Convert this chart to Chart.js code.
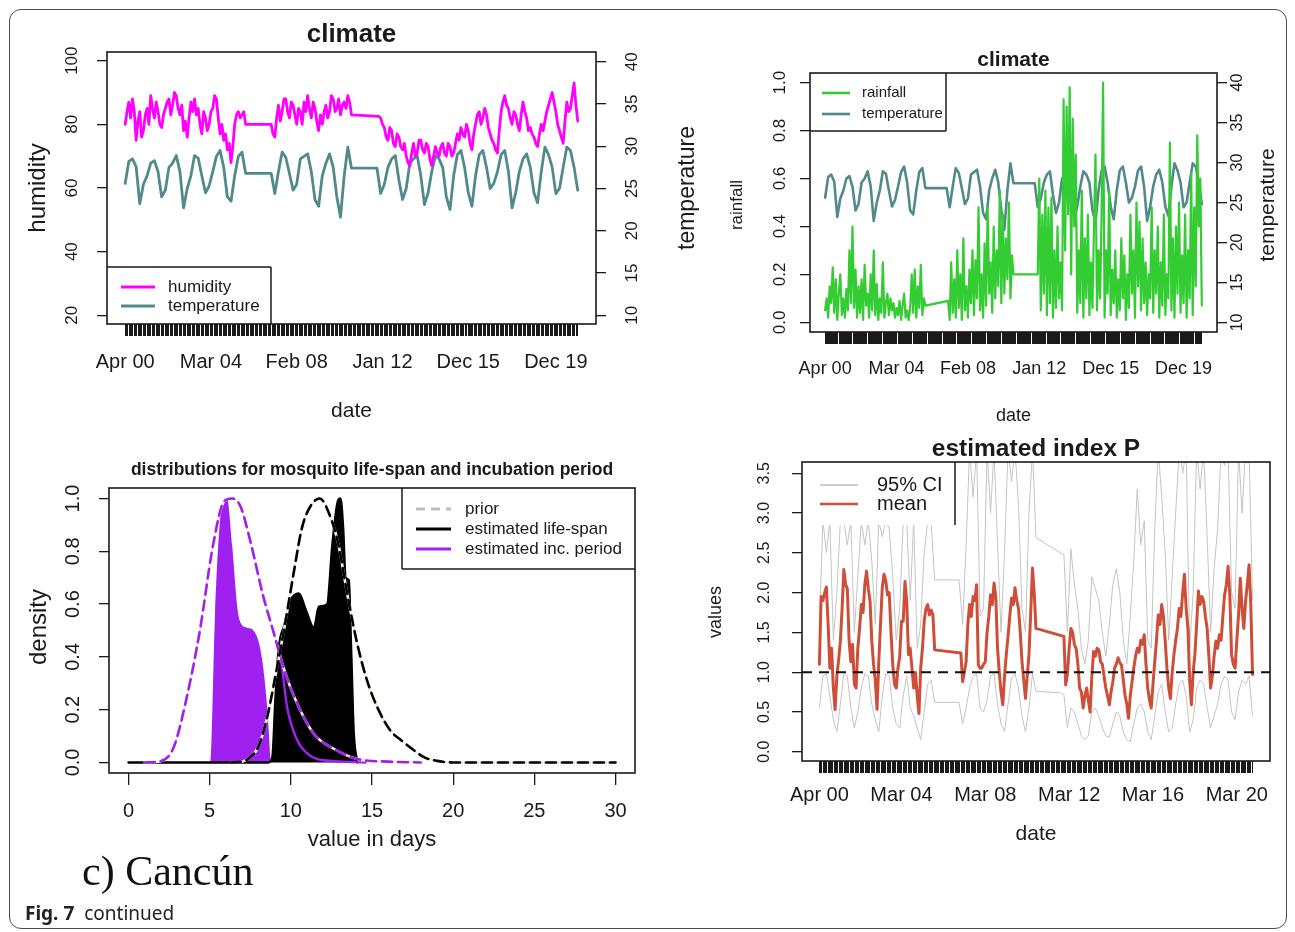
<!DOCTYPE html>
<html>
<head>
<meta charset="utf-8">
<title>Fig. 7 continued – c) Cancún</title>
<script src="https://cdn.jsdelivr.net/npm/chart.js@4.4.1/dist/chart.umd.min.js"></script>
<style>
  html, body { margin:0; padding:0; background:#fff; }
  #page { position:relative; width:1295px; height:932px; overflow:hidden; background:#fff; }
  #page canvas { position:absolute; left:0; top:0; }
  #frame { position:absolute; left:9px; top:9px; width:1278px; height:920px; box-sizing:border-box;
           border:1.5px solid #4d4d4d; border-radius:12px; }
  #city { position:absolute; left:82px; top:850px; font-family:"Liberation Serif","Times New Roman",serif;
          font-size:42px; line-height:42px; color:#111; white-space:nowrap; }
  #caption { position:absolute; left:25px; top:902px; font-family:"Noto Sans","Open Sans",sans-serif;
             font-size:19px; line-height:22px; color:#222; white-space:nowrap; }
  #caption b { font-weight:700; }
</style>
</head>
<body>
<div id="page">
  <div id="frame"></div>
  <canvas id="cHum" width="1295" height="932"></canvas>
  <canvas id="cRain" width="1295" height="932"></canvas>
  <canvas id="cDens" width="1295" height="932"></canvas>
  <canvas id="cIdx" width="1295" height="932"></canvas>
  <div id="city">c) Cancún</div>
  <div id="caption"><b>Fig. 7</b>&nbsp; continued</div>
</div>
<script>
// ================= DATA =================
const firstObs = 2000.25;          // April 2000 (first observation)
const lastObs  = 2020.92;          // December 2020 (last observation)

// monthly humidity (%), Apr 2000 .. Dec 2020; null = missing (line spans the gap)
const humidity = [
  80, 84, 87, 82, 88, 84, 75, 81, 84, 76, 78, 83,
  85, 80, 89, 85, 82, 87, 84, 80, 79, 83, 85, 87,
  88, 83, 86, 90, 89, 85, 83, 86, 78, 81, 76, 82,
  87, 84, 88, 83, 85, 80, 77, 84, 82, 78, 80, 84,
  85, 89, 88, 82, 77, 80, 75, 77, 72, 74, 68, 73,
  80, 83, 84, 82, 83, 84, 80,
  null, null, null, null, null, null, null, null, null, null, null, null, null,
  80, 77, 76, 82, 86, 81, 84, 88, 88, 84, 82, 87,
  86, 83, 80, 85, 84, 80, 87, 84, 89, 85, 82, 87,
  85, 81, 78, 83, 80, 84, 86, 82, 84, 89, 88, 84,
  85, 88, 83, 86, 87, 85, 89, 87, 83,
  null, null, null, null, null, null, null, null, null, null, null, null, null, null,
  82.5, 82,
  80, 79, 76, 75, 79, 78, 74, 73, 77, 76, 73,
  72, 74, 70, 68, 67, 71, 74, 70, 71, 75, 75, 72,
  71, 74, 73, 69, 67, 70, 73, 71, 70, 73, 74, 71,
  70, 74, 73, 70, 71, 74, 77, 75, 79, 77, 76, 80,
  78, 74, 72, 77, 80, 83, 84, 80, 82, 85, 83, 79,
  77, 75, 74, 72, 71, 78, 84, 87, 89, 86, 85, 82,
  80, 84, 83, 80, 78, 83, 87, 84, 82, 78, 79, 77,
  76, 74, 73, 77, 80, 78, 81, 84, 86, 88, 90, 87,
  84, 80, 78, 76, 74, 81, 87, 84, 85, 89, 93, 86, 81
];
// bi-monthly temperature (°C)
const temperature = [
  25.6, 28.2, 28.5, 27.6, 23.2, 25.5,   26.5, 28.0, 28.3, 27.0, 24.0, 24.8,
  27.5, 28.0, 28.9, 27.0, 22.7, 25.0,   26.5, 28.9, 28.6, 26.5, 24.5, 25.3,
  27.0, 28.8, 29.5, 27.5, 24.0, 23.5,   26.5, 28.8, 29.3, 26.8,
  null, null, null, null, null, null,
  26.8, 24.4, 27.0, 29.3, 28.7, 26.8,   24.8, 25.5, 28.5, 28.8, 29.1, 27.0,
  23.7, 22.9, 26.5, 28.0, 29.1, 27.5,   24.0, 21.6, 26.5, 29.9, 27.4,
  null, null, null, null, null, null,
  27.4, 24.4,
  25.5, 27.5, 28.5, 28.9, 26.0, 23.7,   25.0, 28.0, 28.5, 28.9, 26.5, 23.1,
  24.5, 27.0, 28.9, 28.5, 27.5, 24.0,   22.5, 26.5, 29.0, 29.5, 27.5, 24.5,
  22.9, 26.5, 29.0, 29.5, 27.5, 25.0,   25.6, 27.0, 29.0, 29.5, 27.0, 22.7,
  24.5, 27.0, 28.5, 29.1, 27.5, 24.5,   23.3, 27.0, 29.9, 29.0, 27.5, 24.4,
  25.0, 27.5, 29.9, 29.5, 27.5, 24.8
];
// monthly normalised rainfall
const rainfall = [
  0.05, 0.10, 0.02, 0.15, 0.08, 0.23, 0.04, 0.18, 0.01, 0.12, 0.20, 0.03,
  0.10, 0.02, 0.14, 0.05, 0.30, 0.08, 0.40, 0.06, 0.22, 0.02, 0.15, 0.04,
  0.18, 0.01, 0.24, 0.07, 0.12, 0.02, 0.20, 0.05, 0.30, 0.03, 0.16, 0.01,
  0.10, 0.04, 0.25, 0.02, 0.08, 0.12, 0.03, 0.10, 0.05, 0.08, 0.02, 0.06,
  0.03, 0.09, 0.01, 0.07, 0.12, 0.02, 0.05, 0.01, 0.06, 0.20, 0.04, 0.22,
  0.02, 0.15, 0.06, 0.24, 0.03, 0.10, 0.07,
  null, null, null, null, null, null, null, null, null, null, null, null, null, null,
  0.09, 0.01, 0.25, 0.04, 0.18, 0.02, 0.30, 0.06, 0.20, 0.01, 0.35, 0.05,
  0.15, 0.02, 0.22, 0.08, 0.30, 0.03, 0.26, 0.10, 0.48, 0.05, 0.20, 0.02,
  0.33, 0.07, 0.48, 0.12, 0.25, 0.04, 0.40, 0.10, 0.30, 0.15, 0.55, 0.08,
  0.45, 0.12, 0.35, 0.18, 0.50, 0.10, 0.28, 0.20,
  null, null, null, null, null, null, null, null, null, null, null, null, null, null, null,
  0.20, 0.60, 0.05, 0.45, 0.12, 0.55, 0.03, 0.48, 0.08, 0.52, 0.02, 0.30,
  0.06, 0.40, 0.10, 0.25, 0.05, 0.93, 0.30, 0.90, 0.45, 0.98, 0.20, 0.85,
  0.40, 0.70, 0.04, 0.30, 0.08, 0.55, 0.02, 0.35, 0.10, 0.45, 0.03, 0.25,
  0.06, 0.40, 0.70, 0.05, 0.30, 0.10, 0.45, 1.00, 0.02, 0.30, 0.12, 0.55,
  0.03, 0.22, 0.08, 0.30, 0.02, 0.18, 0.05, 0.35, 0.10, 0.28, 0.01, 0.20,
  0.06, 0.45, 0.12, 0.30, 0.02, 0.50, 0.15, 0.42, 0.05, 0.35, 0.08, 0.25,
  0.03, 0.20, 0.10, 0.48, 0.04, 0.30, 0.12, 0.40, 0.02, 0.25, 0.07, 0.45,
  0.03, 0.20, 0.10, 0.75, 0.05, 0.35, 0.02, 0.40, 0.12, 0.50, 0.04, 0.28,
  0.08, 0.45, 0.02, 0.30, 0.10, 0.62, 0.03, 0.48, 0.15, 0.78, 0.40, 0.60, 0.07
];
// monthly mean of estimated index P
const pMean = [
  1.10, 1.95, 1.90, 2.00, 2.07, 1.60, 1.05, 1.30, 0.80, 0.53, 0.95, 1.15,
  1.39, 1.80, 2.29, 2.10, 2.05, 1.40, 1.13, 1.35, 0.85, 0.80, 1.30, 1.55,
  1.85, 1.75, 2.10, 2.27, 2.05, 1.89, 1.39, 1.10, 0.90, 0.53, 1.13, 1.60,
  2.06, 2.23, 2.15, 1.97, 2.00, 1.50, 1.09, 0.85, 0.80, 1.05, 1.20, 1.64,
  1.64, 2.14, 1.90, 1.22, 1.30, 1.05, 0.80, 1.00, 0.70, 0.48, 1.05, 1.30,
  1.64, 1.80, 1.85, 1.72, 1.78, 1.72, 1.28,
  null, null, null, null, null, null, null, null, null, null, null, null, null, null,
  1.24, 0.88, 1.00, 1.13, 1.60, 1.85, 1.70, 1.95, 1.90, 2.10, 1.09, 1.05,
  1.05, 1.10, 1.13, 1.50, 1.70, 1.97, 1.85, 2.12, 1.95, 1.30, 1.00, 0.75,
  0.59, 0.95, 1.22, 1.45, 1.70, 1.93, 1.85, 2.06, 1.90, 1.80, 1.50, 1.13,
  0.90, 0.67, 0.95, 1.22, 1.75, 2.31, 2.00, 1.55,
  null, null, null, null, null, null, null, null, null, null, null, null, null, null, null,
  1.45, 0.84, 0.97, 1.30, 1.55, 1.50, 1.35, 1.30, 1.10, 0.80, 0.75, 0.55,
  0.70, 0.80, 0.65, 0.50, 0.95, 1.26, 1.20, 1.30, 1.28, 1.13, 1.10, 0.95,
  0.80, 0.70, 0.59, 0.75, 0.88, 1.05, 1.10, 1.18, 1.12, 1.09, 0.90, 0.71,
  0.60, 0.42, 0.70, 0.88, 1.05, 1.20, 1.30, 1.25, 1.40, 1.35, 1.47, 1.10,
  0.80, 0.65, 0.55, 0.85, 1.13, 1.40, 1.72, 1.60, 1.85, 1.70, 1.39, 1.05,
  0.80, 0.67, 1.00, 1.22, 1.40, 1.55, 1.80, 1.70, 2.00, 2.23, 1.80, 1.55,
  0.90, 0.59, 1.00, 1.22, 1.60, 2.02, 1.85, 1.95, 1.89, 1.70, 1.55, 1.20,
  0.80, 0.95, 1.20, 1.39, 1.30, 1.47, 1.40, 1.70, 1.97, 2.10, 2.33, 1.97,
  1.22, 1.10, 1.05, 1.40, 1.72, 2.18, 1.80, 1.55, 1.89, 2.10, 2.35, 1.85, 0.97
];
// bi-monthly 95% CI of index P
const pUpper = [
  1.60, 2.90, 2.50, 2.90, 1.40, 2.00,   2.90, 2.90, 2.60, 2.90, 1.50, 2.20,
  2.90, 2.60, 2.90, 2.40, 1.60, 2.90,   2.70, 2.90, 2.80, 2.20, 1.40, 1.80,
  2.90, 2.90, 1.90, 2.90, 1.30, 1.60,   2.50, 2.90, 2.86, 2.16,
  null, null, null, null, null, null,
  2.16, 1.60, 2.60, 3.80, 3.20, 3.80,   1.70, 1.80, 3.80, 3.00, 3.80, 2.60,
  1.50, 2.50, 3.80, 3.40, 3.80, 3.10,   1.80, 1.50, 3.00, 3.80, 2.69,
  null, null, null, null, null, null,
  2.50, 2.48,
  1.50, 2.55, 2.10, 1.80, 1.30, 1.10,   1.40, 2.20, 2.05, 1.90, 1.50, 1.20,
  1.60, 2.10, 2.30, 2.00, 1.40, 1.10,   1.70, 2.40, 3.30, 2.60, 2.90, 1.40,
  1.30, 2.80, 3.80, 3.20, 2.50, 1.40,   2.20, 3.00, 3.80, 3.50, 3.80, 1.30,
  2.00, 3.80, 3.30, 3.80, 2.70, 1.50,   2.30, 2.80, 3.80, 3.60, 3.80, 2.00,
  1.80, 3.80, 3.00, 3.80, 3.80, 1.90
];
const pLower = [
  0.55, 0.95, 0.98, 0.70, 0.40, 0.25,   0.60, 0.98, 0.95, 0.55, 0.30, 0.50,
  0.80, 0.98, 0.95, 0.60, 0.40, 0.25,   0.70, 0.98, 0.95, 0.55, 0.35, 0.30,
  0.70, 0.95, 0.55, 0.45, 0.30, 0.15,   0.50, 0.85, 0.90, 0.62,
  null, null, null, null, null, null,
  0.62, 0.35, 0.55, 0.80, 0.95, 0.98,   0.55, 0.50, 0.65, 0.95, 0.98, 0.60,
  0.35, 0.25, 0.60, 0.92, 0.98, 0.80,   0.45, 0.25, 0.55, 0.98, 0.76,
  null, null, null, null, null, null,
  0.74, 0.72,
  0.30, 0.55, 0.50, 0.35, 0.20, 0.15,   0.20, 0.50, 0.55, 0.45, 0.30, 0.20,
  0.18, 0.35, 0.50, 0.45, 0.25, 0.15,   0.12, 0.35, 0.55, 0.60, 0.50, 0.25,
  0.15, 0.45, 0.75, 0.85, 0.50, 0.25,   0.30, 0.60, 0.85, 0.90, 0.70, 0.25,
  0.40, 0.80, 0.90, 0.85, 0.55, 0.30,   0.45, 0.60, 0.85, 0.95, 0.90, 0.50,
  0.40, 0.75, 0.90, 0.85, 0.95, 0.45
];
const pThreshold = 1;

// densities (scaled to max 1), x in days
const priorIncDays   = [1.0, 2.0, 2.8, 3.6, 4.4, 5.2, 5.9, 6.4, 6.9, 7.5, 8.3, 9.0, 9.4, 10.2, 11.4, 12.7, 14.1, 16.0, 18.0];
const priorIncDens   = [0, 0.005, 0.06, 0.25, 0.5, 0.82, 0.99, 1.0, 0.97, 0.84, 0.63, 0.48, 0.39, 0.25, 0.11, 0.05, 0.013, 0.003, 0];
const priorLifeDays  = [6.3, 7.0, 7.5, 8.0, 8.5, 9.15, 9.66, 10.18, 10.69, 11.2, 11.78, 12.44, 12.95, 13.47, 14.09, 14.7, 15.32, 16.14, 16.76, 17.5, 18.2, 19.0, 20.0, 30.0];
const priorLifeDens  = [0, 0.003, 0.02, 0.06, 0.16, 0.36, 0.53, 0.72, 0.89, 0.97, 1.0, 0.93, 0.82, 0.64, 0.45, 0.31, 0.21, 0.12, 0.086, 0.05, 0.02, 0.006, 0, 0];
const estLifeDays    = [0, 8.6, 8.86, 9.05, 9.25, 9.6, 9.96, 10.5, 10.91, 11.42, 11.73, 12.24, 12.55, 12.9, 13.06, 13.23, 13.37, 13.57, 13.71, 13.87, 14.09];
const estLifeDens    = [0, 0, 0.02, 0.24, 0.43, 0.52, 0.61, 0.64, 0.58, 0.51, 0.59, 0.6, 0.82, 0.99, 1.0, 0.88, 0.70, 0.69, 0.44, 0.12, 0];
const estIncAreaDays = [4.9, 5.05, 5.33, 5.64, 5.88, 6.07, 6.39, 6.7, 6.9, 7.32, 7.7, 8.05, 8.3, 8.5, 8.65, 8.75];
const estIncAreaDens = [0, 0, 0.56, 0.92, 0.99, 1.0, 0.82, 0.59, 0.53, 0.51, 0.50, 0.45, 0.36, 0.24, 0.11, 0];
const estIncTailDays = [9.25, 9.35, 9.77, 10.38, 11.0, 11.8, 14.6];
const estIncTailDens = [0.43, 0.41, 0.21, 0.086, 0.035, 0.01, 0];

// axis ticks & labels
const climateTickMonths = [0, 47, 94, 141, 188, 236];
const climateTickLabels = ['Apr 00', 'Mar 04', 'Feb 08', 'Jan 12', 'Dec 15', 'Dec 19'];
const indexTickMonths   = [0, 47, 95, 143, 191, 239];
const indexTickLabels   = ['Apr 00', 'Mar 04', 'Mar 08', 'Mar 12', 'Mar 16', 'Mar 20'];
const rugStepYears = 1 / 17;
const humidityTicks    = [20, 40, 60, 80, 100];
const temperatureTicks = [10, 15, 20, 25, 30, 35, 40];
const rainfallTicks    = [0, 0.2, 0.4, 0.6, 0.8, 1.0];
const densityTicks     = [0, 0.2, 0.4, 0.6, 0.8, 1.0];
const dayTicks         = [0, 5, 10, 15, 20, 25, 30];
const indexTicks       = [0, 0.5, 1, 1.5, 2, 2.5, 3, 3.5];

// ================= STYLE =================
const FONT = '"Liberation Sans", Arial, Helvetica, sans-serif';
const INK = '#1a1a1a';
const MAGENTA = '#ff00ff', TEAL = '#528a8c', GREEN = '#33cc33', PURPLE = '#a020f0';
const RED = '#cd4f39', GRAY = '#c4c4c4', CREAM = '#f2efdb';
const X_TIME = { min: 1999.42, max: 2021.75 };

const monthly   = vals => vals.map((v, i) => ({ x: firstObs + i / 12, y: v }));
const bimonthly = vals => vals.map((v, i) => ({ x: firstObs + i / 6, y: v }));
const pairs = (xs, ys) => xs.map((x, i) => ({ x, y: ys[i] }));

// ================= DECOR PLUGIN (R-style box, rotated labels, legends) =================
const decor = {};
Chart.register({
  id: 'rdecor',
  afterDatasetsDraw(chart) {
    const d = decor[chart.canvas.id]; if (!d) return;
    const ctx = chart.ctx, a = chart.chartArea;
    ctx.save();
    if (d.legend) {
      const g = d.legend, [x0, y0, x1, y1] = g.box;
      ctx.fillStyle = '#fff';
      ctx.fillRect(x0, y0, x1 - x0, y1 - y0);
      ctx.strokeStyle = INK; ctx.lineWidth = 1.5; ctx.beginPath();
      if (g.sides.includes('t')) { ctx.moveTo(x0, y0); ctx.lineTo(x1, y0); }
      if (g.sides.includes('r')) { ctx.moveTo(x1, y0); ctx.lineTo(x1, y1); }
      if (g.sides.includes('b')) { ctx.moveTo(x0, y1); ctx.lineTo(x1, y1); }
      if (g.sides.includes('l')) { ctx.moveTo(x0, y0); ctx.lineTo(x0, y1); }
      ctx.stroke();
      g.items.forEach((it, i) => {
        const y = g.rowY[i];
        ctx.beginPath(); ctx.setLineDash(it.dash || []);
        ctx.strokeStyle = it.color; ctx.lineWidth = it.width; ctx.lineCap = 'butt';
        ctx.moveTo(g.lineX[0], y); ctx.lineTo(g.lineX[1], y); ctx.stroke();
        ctx.setLineDash([]);
        ctx.fillStyle = INK; ctx.font = g.font; ctx.textAlign = 'left'; ctx.textBaseline = 'middle';
        ctx.fillText(it.text, g.textX, y);
      });
    }
    ctx.strokeStyle = INK; ctx.lineWidth = 1.6; ctx.setLineDash([]);
    ctx.strokeRect(a.left, a.top, a.right - a.left, a.bottom - a.top);
    ctx.restore();
  },
  afterDraw(chart) {
    const d = decor[chart.canvas.id]; if (!d) return;
    const ctx = chart.ctx;
    (d.texts || []).forEach(t => {
      ctx.save();
      ctx.font = t.font; ctx.fillStyle = INK; ctx.textAlign = 'center'; ctx.textBaseline = 'middle';
      ctx.translate(t.x, t.y); if (t.rot) ctx.rotate(t.rot * Math.PI / 180);
      ctx.fillText(t.text, 0, 0);
      ctx.restore();
    });
    (d.yLabels || []).forEach(yl => {
      const sc = chart.scales[yl.axis];
      yl.values.forEach(v => {
        ctx.save();
        ctx.font = yl.font; ctx.fillStyle = INK; ctx.textAlign = 'center'; ctx.textBaseline = 'middle';
        ctx.translate(yl.x, sc.getPixelForValue(v)); ctx.rotate(-Math.PI / 2);
        ctx.fillText(v.toFixed(yl.decimals), 0, 0);
        ctx.restore();
      });
    });
  }
});

// ================= AXIS BUILDERS =================
function timeXAxis(tickMonths, tickLabels, size, pad) {
  const labelValues = tickMonths.map(m => firstObs + m / 12);
  return {
    type: 'linear', position: 'bottom', min: X_TIME.min, max: X_TIME.max,
    afterBuildTicks: s => {
      const t = labelValues.slice();
      for (let v = firstObs; v <= lastObs + 1e-9; v += rugStepYears) {
        if (!labelValues.some(lv => Math.abs(lv - v) < 0.02)) t.push(v);
      }
      t.sort((a, b) => a - b);
      s.ticks = t.map(v => ({ value: v }));
    },
    afterFit: s => { s.height = 60; },
    grid: { drawOnChartArea: false, drawTicks: true, tickLength: 12, color: INK, lineWidth: 1 },
    border: { display: false },
    ticks: { autoSkip: false, maxRotation: 0, minRotation: 0, padding: pad, color: INK,
             font: { family: FONT, size },
             callback: v => { const k = labelValues.findIndex(lv => Math.abs(lv - v) < 1e-9); return k >= 0 ? tickLabels[k] : ''; } }
  };
}
function valueYAxis(position, min, max, tickValues) {
  return {
    type: 'linear', position, min, max,
    afterBuildTicks: s => { s.ticks = tickValues.map(v => ({ value: v })); },
    afterFit: s => { s.width = 10; },
    grid: { drawOnChartArea: false, drawTicks: true, tickLength: 10, color: INK, lineWidth: 1.3 },
    border: { display: false },
    ticks: { display: false }
  };
}
function baseOptions(padding, scales) {
  return {
    responsive: false, maintainAspectRatio: false, animation: false, devicePixelRatio: 1, events: [],
    layout: { padding, autoPadding: false },
    plugins: { legend: { display: false }, tooltip: { enabled: false }, title: { display: false } },
    elements: { point: { radius: 0, hoverRadius: 0 },
                line: { tension: 0, borderJoinStyle: 'round', borderCapStyle: 'round', fill: false } },
    scales
  };
}

// ================= PANEL 1: humidity & temperature =================
decor.cHum = {
  texts: [
    { text: 'climate', x: 351.5, y: 35, font: 'bold 26px ' + FONT },
    { text: 'humidity', x: 38, y: 188, rot: -90, font: '24px ' + FONT },
    { text: 'temperature', x: 688, y: 188, rot: -90, font: '23px ' + FONT },
    { text: 'date', x: 351.5, y: 411, font: '21px ' + FONT }
  ],
  yLabels: [
    { axis: 'y', x: 72, values: humidityTicks, decimals: 0, font: '17px ' + FONT },
    { axis: 'y2', x: 632, values: temperatureTicks, decimals: 0, font: '17px ' + FONT }
  ],
  legend: { box: [107, 267, 271, 324], sides: 'tr', lineX: [121, 155], textX: 168, rowY: [287, 306],
            font: '17px ' + FONT,
            items: [{ text: 'humidity', color: MAGENTA, width: 3 }, { text: 'temperature', color: TEAL, width: 3 }] }
};
new Chart(document.getElementById('cHum'), {
  type: 'line',
  data: { datasets: [
    { label: 'humidity', data: monthly(humidity), borderColor: MAGENTA, borderWidth: 2.8, yAxisID: 'y', spanGaps: true },
    { label: 'temperature', data: bimonthly(temperature), borderColor: TEAL, borderWidth: 2.8, yAxisID: 'y2', spanGaps: true }
  ]},
  options: baseOptions({ left: 97, top: 52, right: 689, bottom: 548 }, {
    x: timeXAxis(climateTickMonths, climateTickLabels, 20, 14),
    y: valueYAxis('left', 17.27, 102.73, humidityTicks),
    y2: valueYAxis('right', 8.97, 41.15, temperatureTicks)
  })
});

// ================= PANEL 2: rainfall & temperature =================
decor.cRain = {
  texts: [
    { text: 'climate', x: 1013.5, y: 60, font: 'bold 21px ' + FONT },
    { text: 'rainfall', x: 737, y: 205, rot: -90, font: '17px ' + FONT },
    { text: 'temperature', x: 1268, y: 205, rot: -90, font: '21px ' + FONT },
    { text: 'date', x: 1013.5, y: 416, font: '18px ' + FONT }
  ],
  yLabels: [
    { axis: 'y', x: 780, values: rainfallTicks, decimals: 1, font: '17px ' + FONT },
    { axis: 'y2', x: 1238, values: temperatureTicks, decimals: 0, font: '16px ' + FONT }
  ],
  legend: { box: [810, 73, 946, 131], sides: 'rb', lineX: [822, 850], textX: 862, rowY: [93, 114],
            font: '15px ' + FONT,
            items: [{ text: 'rainfall', color: GREEN, width: 2.6 }, { text: 'temperature', color: TEAL, width: 2.6 }] }
};
new Chart(document.getElementById('cRain'), {
  type: 'line',
  data: { datasets: [
    { label: 'rainfall', data: monthly(rainfall), borderColor: GREEN, borderWidth: 2.2, yAxisID: 'y', spanGaps: true },
    { label: 'temperature', data: bimonthly(temperature), borderColor: TEAL, borderWidth: 2.6, yAxisID: 'y2', spanGaps: true }
  ]},
  options: baseOptions({ left: 800, top: 73, right: 68, bottom: 540 }, {
    x: timeXAxis(climateTickMonths, climateTickLabels, 18, 14),
    y: valueYAxis('left', -0.04, 1.04, rainfallTicks),
    y2: valueYAxis('right', 8.8, 41.2, temperatureTicks)
  })
});

// ================= PANEL 3: densities =================
decor.cDens = {
  texts: [
    { text: 'distributions for mosquito life-span and incubation period', x: 372, y: 470, font: 'bold 17.5px ' + FONT },
    { text: 'density', x: 39, y: 627, rot: -90, font: '24px ' + FONT },
    { text: 'value in days', x: 372, y: 840, font: '22px ' + FONT }
  ],
  yLabels: [
    { axis: 'y', x: 73, values: densityTicks, decimals: 1, font: '20px ' + FONT }
  ],
  legend: { box: [402, 488, 635, 569], sides: 'lb', lineX: [416, 451], textX: 465, rowY: [509, 529, 549],
            font: '17px ' + FONT,
            items: [{ text: 'prior', color: '#bebebe', width: 3, dash: [9, 6] },
                    { text: 'estimated life-span', color: '#000', width: 3 },
                    { text: 'estimated inc. period', color: PURPLE, width: 3 }] }
};
new Chart(document.getElementById('cDens'), {
  type: 'line',
  data: { datasets: [
    { label: 'prior life-span', data: pairs(priorLifeDays, priorLifeDens), borderColor: '#000', borderWidth: 2.6, borderDash: [10, 6], cubicInterpolationMode: 'monotone' },
    { label: 'prior life-span (underlay)', data: pairs(priorLifeDays, priorLifeDens), borderColor: CREAM, borderWidth: 2.6, cubicInterpolationMode: 'monotone' },
    { label: 'prior inc. period', data: pairs(priorIncDays, priorIncDens), borderColor: PURPLE, borderWidth: 2.6, borderDash: [10, 6], cubicInterpolationMode: 'monotone' },
    { label: 'prior inc. period (underlay)', data: pairs(priorIncDays, priorIncDens), borderColor: CREAM, borderWidth: 2.6, cubicInterpolationMode: 'monotone' },
    { label: 'estimated inc. period', data: pairs(estIncTailDays, estIncTailDens), borderColor: PURPLE, borderWidth: 2.4, cubicInterpolationMode: 'monotone' },
    { label: 'estimated life-span', data: pairs(estLifeDays, estLifeDens), borderColor: '#000', borderWidth: 2.4, backgroundColor: '#000', fill: 'origin', cubicInterpolationMode: 'monotone' },
    { label: 'estimated inc. period (area)', data: pairs(estIncAreaDays, estIncAreaDens), borderColor: PURPLE, borderWidth: 0, backgroundColor: PURPLE, fill: 'origin', cubicInterpolationMode: 'monotone' }
  ]},
  options: baseOptions({ left: 99, top: 488, right: 660, bottom: 99 }, {
    x: { type: 'linear', position: 'bottom', min: -1.2, max: 31.2,
         afterBuildTicks: s => { s.ticks = dayTicks.map(v => ({ value: v })); },
         afterFit: s => { s.height = 60; },
         grid: { drawOnChartArea: false, drawTicks: true, tickLength: 12, color: INK, lineWidth: 1.3 },
         border: { display: false },
         ticks: { autoSkip: false, maxRotation: 0, minRotation: 0, padding: 14, color: INK, font: { family: FONT, size: 20 } } },
    y: valueYAxis('left', -0.04, 1.04, densityTicks)
  })
});

// ================= PANEL 4: estimated index P =================
decor.cIdx = {
  texts: [
    { text: 'estimated index P', x: 1036, y: 449, font: 'bold 24.5px ' + FONT },
    { text: 'values', x: 716, y: 612, rot: -90, font: '18px ' + FONT },
    { text: 'date', x: 1036, y: 834, font: '21px ' + FONT }
  ],
  yLabels: [
    { axis: 'y', x: 765, values: indexTicks, decimals: 1, font: '16px ' + FONT }
  ],
  legend: { box: [802, 462, 955, 525], sides: 'r', lineX: [820, 858], textX: 877, rowY: [485, 504],
            font: '20px ' + FONT,
            items: [{ text: '95% CI', color: '#bdbdbd', width: 1.3 }, { text: 'mean', color: RED, width: 2.6 }] }
};
new Chart(document.getElementById('cIdx'), {
  type: 'line',
  data: { datasets: [
    { label: 'P = 1', data: [{ x: X_TIME.min, y: pThreshold }, { x: X_TIME.max, y: pThreshold }], borderColor: '#111', borderWidth: 2, borderDash: [10, 7], borderCapStyle: 'butt' },
    { label: 'mean', data: monthly(pMean), borderColor: RED, borderWidth: 3, spanGaps: true },
    { label: '95% CI (upper)', data: bimonthly(pUpper), borderColor: GRAY, borderWidth: 1, spanGaps: true },
    { label: '95% CI (lower)', data: bimonthly(pLower), borderColor: GRAY, borderWidth: 1, spanGaps: true }
  ]},
  options: baseOptions({ left: 792, top: 462, right: 25, bottom: 111 }, {
    x: timeXAxis(indexTickMonths, indexTickLabels, 20, 10),
    y: valueYAxis('left', -0.117, 3.642, indexTicks)
  })
});
</script>
</body>
</html>
